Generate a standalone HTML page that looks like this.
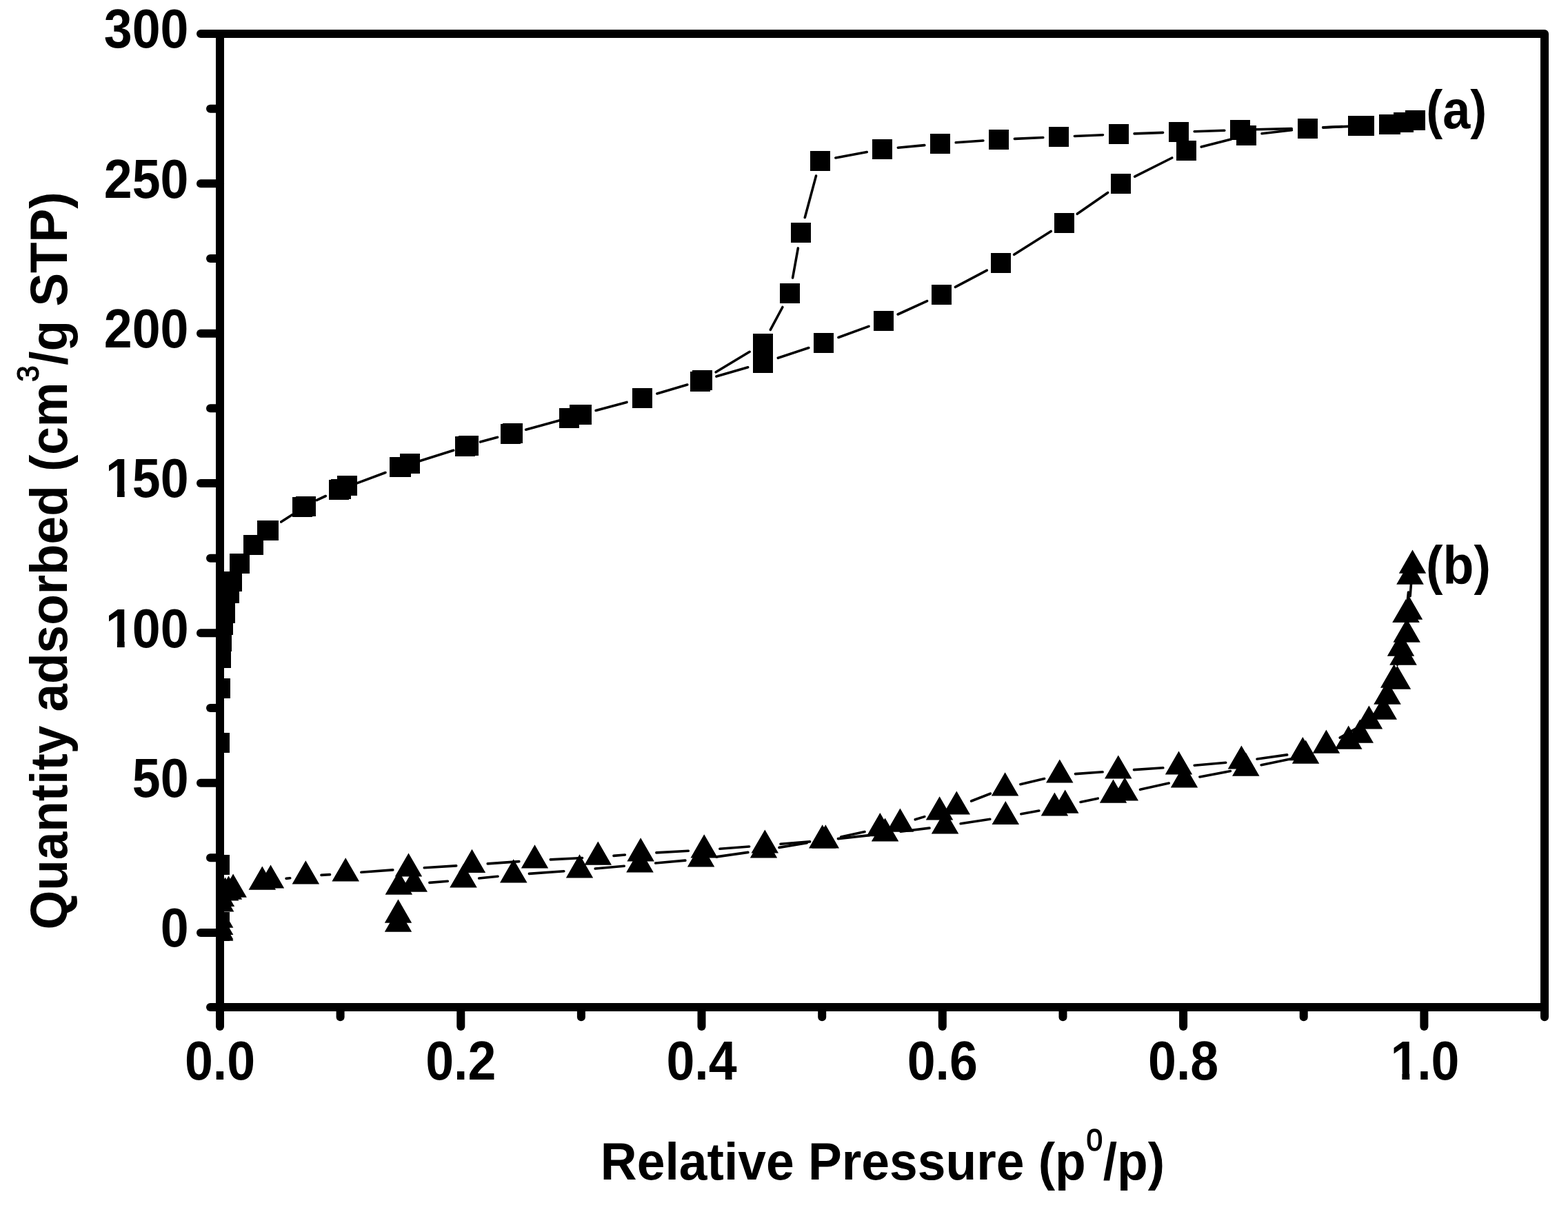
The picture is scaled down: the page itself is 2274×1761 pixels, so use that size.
<!DOCTYPE html>
<html lang="en">
<head>
<meta charset="utf-8">
<title>Nitrogen adsorption isotherms</title>
<style>
html,body{margin:0;padding:0;background:#fff;}
body{width:2274px;height:1761px;}
svg{display:block;}
text{font-family:"Liberation Sans",sans-serif;font-weight:bold;fill:#000;}
.ax{stroke:#000;stroke-width:12;stroke-linecap:round;fill:none;}
.ln{stroke:#000;stroke-width:3.6;stroke-linecap:round;fill:none;}
.tk{font-size:77px;}
.tt{font-size:77px;}
</style>
</head>
<body>
<svg width="2274" height="1761" viewBox="0 0 2274 1761">
<rect x="0" y="0" width="2274" height="1761" fill="#fff"/>
<defs><clipPath id="plot"><rect x="319" y="49" width="1921" height="1412"/></clipPath><clipPath id="one"><path d="M-5,-90 H50 V-10 H-5 Z M17.6,-10.5 H28.9 V3 H17.6 Z"/></clipPath></defs>
<g clip-path="url(#plot)">
<g class="ln">
<line x1="407.7" y1="757" x2="424.1" y2="746.6"/>
<line x1="459.2" y1="725.6" x2="472.3" y2="719.5"/>
<line x1="514.4" y1="702.1" x2="559" y2="685.5"/>
<line x1="602.2" y1="670.8" x2="657.7" y2="653.3"/>
<line x1="696.5" y1="641.1" x2="721.5" y2="634.3"/>
<line x1="762.7" y1="623.2" x2="820.1" y2="607.5"/>
<line x1="864.1" y1="595.5" x2="909" y2="583.4"/>
<line x1="952.9" y1="571" x2="996.8" y2="558"/>
<line x1="1038.9" y1="546.1" x2="1084.7" y2="532.8"/>
<line x1="1128.3" y1="519.3" x2="1172.8" y2="504.5"/>
<line x1="1215.9" y1="489.5" x2="1260" y2="473.4"/>
<line x1="1302.1" y1="456" x2="1344.6" y2="436.6"/>
<line x1="1385.4" y1="416.4" x2="1431.3" y2="392.1"/>
<line x1="1470.7" y1="369.3" x2="1524.2" y2="335.5"/>
<line x1="1562.2" y1="310.3" x2="1606.6" y2="279.4"/>
<line x1="1645.7" y1="256.1" x2="1699.7" y2="229"/>
<line x1="1742.2" y1="213.1" x2="1785.3" y2="202.1"/>
<line x1="1830" y1="193.7" x2="1873.4" y2="188.7"/>
<line x1="1918.8" y1="184.9" x2="1946.5" y2="183.5"/>
<line x1="1038.2" y1="539.8" x2="1087.1" y2="510.3"/>
<line x1="1117.3" y1="478.4" x2="1134.9" y2="445.5"/>
<line x1="1149.6" y1="403" x2="1157.4" y2="359.9"/>
<line x1="1167.3" y1="315.5" x2="1183.5" y2="255.1"/>
<line x1="1211.8" y1="228.9" x2="1257.2" y2="220.6"/>
<line x1="1302.3" y1="214.2" x2="1340.8" y2="210.6"/>
<line x1="1386.2" y1="206.8" x2="1425.9" y2="204"/>
<line x1="1471.4" y1="201.4" x2="1512.8" y2="199.5"/>
<line x1="1558.4" y1="197.5" x2="1599.5" y2="195.7"/>
<line x1="1645.1" y1="193.9" x2="1686.6" y2="192.4"/>
<line x1="1732.2" y1="190.8" x2="1775.8" y2="189.2"/>
<line x1="1821.4" y1="187.8" x2="1873.2" y2="186.6"/>
<line x1="1918.8" y1="185" x2="1955.8" y2="183.4"/>
<line x1="415.1" y1="1274.4" x2="420.7" y2="1273.8"/>
<line x1="466" y1="1269.4" x2="478.5" y2="1268.6"/>
<line x1="523.9" y1="1265.3" x2="569.8" y2="1261.9"/>
<line x1="615.3" y1="1258.8" x2="661.7" y2="1255.9"/>
<line x1="707.2" y1="1252.9" x2="752.8" y2="1249.6"/>
<line x1="798.3" y1="1246.9" x2="844.5" y2="1244.5"/>
<line x1="890" y1="1241.4" x2="906.4" y2="1240"/>
<line x1="951.9" y1="1236.9" x2="998.4" y2="1234.3"/>
<line x1="1043.9" y1="1231.3" x2="1086.6" y2="1228"/>
<line x1="1132" y1="1224.3" x2="1174.6" y2="1220.9"/>
<line x1="1219.6" y1="1214.1" x2="1254" y2="1206.6"/>
<line x1="1327.2" y1="1188.8" x2="1340.8" y2="1184.6"/>
<line x1="1408.6" y1="1162" x2="1436.3" y2="1151.2"/>
<line x1="1479.8" y1="1137.7" x2="1514.6" y2="1129.5"/>
<line x1="1559.5" y1="1122.6" x2="1599.1" y2="1119.8"/>
<line x1="1644.5" y1="1116.6" x2="1686.8" y2="1113.8"/>
<line x1="1732.2" y1="1110.2" x2="1777.7" y2="1106.2"/>
<line x1="1823" y1="1101" x2="1866.7" y2="1094.9"/>
<line x1="1943.2" y1="1070.1" x2="1965.6" y2="1057.4"/>
<line x1="2013.5" y1="1010.8" x2="2014.5" y2="1008"/>
<line x1="2026.5" y1="964.1" x2="2026.7" y2="962.7"/>
<line x1="2035" y1="917.9" x2="2035.5" y2="914.1"/>
<line x1="2041.5" y1="868.9" x2="2042.5" y2="859.1"/>
<line x1="622.9" y1="1280.4" x2="649.3" y2="1278.2"/>
<line x1="694.7" y1="1274" x2="722" y2="1271.2"/>
<line x1="767.4" y1="1267.4" x2="817.8" y2="1263.7"/>
<line x1="863.2" y1="1260" x2="905.3" y2="1256.2"/>
<line x1="950.7" y1="1252" x2="993.9" y2="1248.1"/>
<line x1="1039.2" y1="1242.9" x2="1084.9" y2="1236.4"/>
<line x1="1130" y1="1229.4" x2="1170.2" y2="1222.7"/>
<line x1="1215.4" y1="1216.6" x2="1260.9" y2="1211.6"/>
<line x1="1306.2" y1="1206.3" x2="1348" y2="1201.1"/>
<line x1="1393.1" y1="1194.7" x2="1435.8" y2="1188.2"/>
<line x1="1480.8" y1="1180.7" x2="1506.9" y2="1176.1"/>
<line x1="1567" y1="1163.5" x2="1592.2" y2="1158.2"/>
<line x1="1653.5" y1="1145.3" x2="1695.2" y2="1136.1"/>
<line x1="1739.9" y1="1127" x2="1784.4" y2="1118.5"/>
<line x1="1829.1" y1="1109.7" x2="1871.3" y2="1101"/>
<line x1="1915.2" y1="1089.1" x2="1934.1" y2="1082.6"/>
<line x1="1985.4" y1="1047.8" x2="1998.8" y2="1029"/>
<line x1="2045.1" y1="864.6" x2="2046.8" y2="843.1"/>
</g>
<g fill="#000" shape-rendering="crispEdges">
<rect x="304.1" y="1335.7" width="29" height="29"/>
<rect x="304.1" y="1322.5" width="29" height="29"/>
<rect x="304.1" y="1240" width="29" height="29"/>
<rect x="304.1" y="1063" width="29" height="29"/>
<rect x="304.8" y="983.9" width="29" height="29"/>
<rect x="305.7" y="939.5" width="29" height="29"/>
<rect x="306.9" y="915.5" width="29" height="29"/>
<rect x="308.9" y="892" width="29" height="29"/>
<rect x="312" y="874.5" width="29" height="29"/>
<rect x="318" y="845.5" width="29" height="29"/>
<rect x="322" y="828.5" width="29" height="29"/>
<rect x="333.1" y="803" width="29" height="29"/>
<rect x="353.2" y="775.8" width="29" height="29"/>
<rect x="373.2" y="755.1" width="29" height="29"/>
<rect x="374.9" y="754.5" width="29" height="29"/>
<rect x="424" y="720.6" width="29" height="29"/>
<rect x="428.8" y="719.8" width="29" height="29"/>
<rect x="477.1" y="695.8" width="29" height="29"/>
<rect x="480" y="695.2" width="29" height="29"/>
<rect x="489" y="689.9" width="29" height="29"/>
<rect x="565" y="663.3" width="29" height="29"/>
<rect x="566.8" y="662.9" width="29" height="29"/>
<rect x="580.2" y="658.1" width="29" height="29"/>
<rect x="660" y="632.6" width="29" height="29"/>
<rect x="665" y="632" width="29" height="29"/>
<rect x="726.2" y="614.7" width="29" height="29"/>
<rect x="729" y="613.8" width="29" height="29"/>
<rect x="810.8" y="591.9" width="29" height="29"/>
<rect x="826.2" y="587.2" width="29" height="29"/>
<rect x="829" y="586.8" width="29" height="29"/>
<rect x="916.5" y="562.9" width="29" height="29"/>
<rect x="1000.9" y="538.9" width="29" height="29"/>
<rect x="1004.2" y="537.1" width="29" height="29"/>
<rect x="1092.1" y="511.9" width="29" height="29"/>
<rect x="1092.1" y="484" width="29" height="29"/>
<rect x="1180" y="482.9" width="29" height="29"/>
<rect x="1266.9" y="451" width="29" height="29"/>
<rect x="1350.8" y="412.6" width="29" height="29"/>
<rect x="1436.9" y="366.9" width="29" height="29"/>
<rect x="1529" y="308.9" width="29" height="29"/>
<rect x="1610.8" y="251.8" width="29" height="29"/>
<rect x="1705.6" y="204.3" width="29" height="29"/>
<rect x="1792.9" y="181.9" width="29" height="29"/>
<rect x="1881.5" y="171.5" width="29" height="29"/>
<rect x="1954.8" y="167.9" width="29" height="29"/>
<rect x="1999.8" y="165.9" width="29" height="29"/>
<rect x="2021" y="162.9" width="29" height="29"/>
<rect x="2037.8" y="159.9" width="29" height="29"/>
<rect x="2002.3" y="165.9" width="29" height="29"/>
<rect x="1964.1" y="167.9" width="29" height="29"/>
<rect x="1784.1" y="173.9" width="29" height="29"/>
<rect x="1694.9" y="177.1" width="29" height="29"/>
<rect x="1607.8" y="180.2" width="29" height="29"/>
<rect x="1521.1" y="184" width="29" height="29"/>
<rect x="1434.1" y="187.9" width="29" height="29"/>
<rect x="1349" y="193.9" width="29" height="29"/>
<rect x="1265.1" y="201.9" width="29" height="29"/>
<rect x="1174.9" y="218.6" width="29" height="29"/>
<rect x="1146.9" y="323" width="29" height="29"/>
<rect x="1131.1" y="410.9" width="29" height="29"/>
</g>
<g fill="#000">
<polygon points="318.6,1330.5 338.4,1364.7 298.9,1364.7"/>
<polygon points="318.6,1328.5 338.4,1362.7 298.9,1362.7"/>
<polygon points="318.6,1321.8 338.4,1356 298.9,1356"/>
<polygon points="318.6,1311.6 338.4,1345.8 298.9,1345.8"/>
<polygon points="319.7,1288.4 339.4,1322.6 299.9,1322.6"/>
<polygon points="320.5,1280.8 340.2,1315 300.8,1315"/>
<polygon points="326.6,1272.4 346.4,1306.6 306.9,1306.6"/>
<polygon points="331.5,1270.5 351.2,1304.7 311.8,1304.7"/>
<polygon points="338.1,1267.6 357.9,1301.8 318.4,1301.8"/>
<polygon points="380.3,1256.6 400.1,1290.8 360.6,1290.8"/>
<polygon points="392.5,1254.4 412.2,1288.6 372.8,1288.6"/>
<polygon points="443.3,1248.2 463.1,1282.4 423.6,1282.4"/>
<polygon points="501.2,1244.2 521,1278.4 481.4,1278.4"/>
<polygon points="592.5,1237.4 612.2,1271.6 572.8,1271.6"/>
<polygon points="684.5,1231.7 704.2,1265.9 664.8,1265.9"/>
<polygon points="775.5,1225.2 795.2,1259.4 755.8,1259.4"/>
<polygon points="867.3,1220.6 887,1254.8 847.5,1254.8"/>
<polygon points="929.1,1215.3 948.9,1249.5 909.4,1249.5"/>
<polygon points="1021.2,1210.3 1041,1244.5 1001.5,1244.5"/>
<polygon points="1109.3,1203.4 1129,1237.6 1089.5,1237.6"/>
<polygon points="1197.3,1196.2 1217,1230.4 1177.5,1230.4"/>
<polygon points="1276.3,1179 1296,1213.2 1256.5,1213.2"/>
<polygon points="1305.4,1172.6 1325.2,1206.8 1285.7,1206.8"/>
<polygon points="1362.6,1155.2 1382.3,1189.4 1342.8,1189.4"/>
<polygon points="1387.3,1147.4 1407,1181.6 1367.5,1181.6"/>
<polygon points="1457.6,1120.2 1477.3,1154.4 1437.8,1154.4"/>
<polygon points="1536.8,1101.4 1556.5,1135.6 1517,1135.6"/>
<polygon points="1621.8,1095.4 1641.5,1129.6 1602,1129.6"/>
<polygon points="1709.5,1089.4 1729.2,1123.6 1689.8,1123.6"/>
<polygon points="1800.4,1081.4 1820.2,1115.6 1780.7,1115.6"/>
<polygon points="1889.3,1069 1909,1103.2 1869.5,1103.2"/>
<polygon points="1923.4,1058.5 1943.2,1092.7 1903.7,1092.7"/>
<polygon points="1985.4,1023.4 2005.2,1057.6 1965.7,1057.6"/>
<polygon points="2006.3,1009.6 2026,1043.8 1986.5,1043.8"/>
<polygon points="2021.7,963.6 2041.5,997.8 2002,997.8"/>
<polygon points="2031.5,917.6 2051.2,951.8 2011.8,951.8"/>
<polygon points="2039,868.8 2058.8,903 2019.2,903"/>
<polygon points="2045,813.6 2064.8,847.8 2025.2,847.8"/>
<polygon points="577.5,1317.5 597.2,1351.7 557.8,1351.7"/>
<polygon points="577.5,1304.5 597.2,1338.7 557.8,1338.7"/>
<polygon points="578.4,1263.6 598.1,1297.8 558.6,1297.8"/>
<polygon points="600.2,1259.6 620,1293.8 580.5,1293.8"/>
<polygon points="672,1253.4 691.8,1287.6 652.2,1287.6"/>
<polygon points="744.7,1246.2 764.5,1280.4 725,1280.4"/>
<polygon points="840.5,1239.3 860.2,1273.5 820.8,1273.5"/>
<polygon points="928,1231.3 947.8,1265.5 908.2,1265.5"/>
<polygon points="1016.6,1223.3 1036.3,1257.5 996.9,1257.5"/>
<polygon points="1107.5,1210.4 1127.2,1244.6 1087.8,1244.6"/>
<polygon points="1192.7,1196.2 1212.5,1230.4 1173,1230.4"/>
<polygon points="1283.6,1186.4 1303.3,1220.6 1263.8,1220.6"/>
<polygon points="1370.6,1175.4 1390.3,1209.6 1350.8,1209.6"/>
<polygon points="1458.3,1161.9 1478,1196.1 1438.5,1196.1"/>
<polygon points="1529.4,1149.4 1549.2,1183.6 1509.7,1183.6"/>
<polygon points="1544.7,1145.5 1564.5,1179.7 1525,1179.7"/>
<polygon points="1614.5,1130.6 1634.2,1164.8 1594.8,1164.8"/>
<polygon points="1631.2,1127.4 1651,1161.6 1611.5,1161.6"/>
<polygon points="1717.5,1108.4 1737.2,1142.6 1697.8,1142.6"/>
<polygon points="1806.8,1091.5 1826.5,1125.7 1787,1125.7"/>
<polygon points="1893.6,1073.6 1913.3,1107.8 1873.8,1107.8"/>
<polygon points="1955.7,1052.5 1975.5,1086.7 1936,1086.7"/>
<polygon points="1972.2,1043.6 1992,1077.8 1952.5,1077.8"/>
<polygon points="2012,987.6 2031.8,1021.8 1992.2,1021.8"/>
<polygon points="2026.4,965.6 2046.2,999.8 2006.7,999.8"/>
<polygon points="2035,930.6 2054.8,964.8 2015.2,964.8"/>
<polygon points="2040.2,897.6 2059.9,931.8 2020.5,931.8"/>
<polygon points="2043.4,864.5 2063.2,898.7 2023.7,898.7"/>
<polygon points="2048.5,797.6 2068.2,831.8 2028.8,831.8"/>
</g>
</g>
<g class="ax">
<path d="M291,49 H2240 V1475.3" stroke-linejoin="round"/>
<path d="M319,49 V1489"/>
<path d="M305,1461 H2240" stroke-linecap="butt"/>
<path d="M305,1461 h0.1"/>
<path d="M319,157.7 H305"/>
<path d="M319,266.3 H291"/>
<path d="M319,375 H305"/>
<path d="M319,483.7 H291"/>
<path d="M319,592.3 H305"/>
<path d="M319,701 H291"/>
<path d="M319,809.7 H305"/>
<path d="M319,918.3 H291"/>
<path d="M319,1027 H305"/>
<path d="M319,1135.7 H291"/>
<path d="M319,1244.3 H305"/>
<path d="M319,1353 H291"/>
<path d="M493.6,1461 V1475.3"/>
<path d="M668.3,1461 V1489"/>
<path d="M842.9,1461 V1475.3"/>
<path d="M1017.5,1461 V1489"/>
<path d="M1192.2,1461 V1475.3"/>
<path d="M1366.8,1461 V1489"/>
<path d="M1541.5,1461 V1475.3"/>
<path d="M1716.1,1461 V1489"/>
<path d="M1890.7,1461 V1475.3"/>
<path d="M2065.4,1461 V1489"/>
</g>
<g transform="translate(273.5,69.3) scale(0.955,1.035)"><text class="tk" x="-128.5" y="0">300</text></g>
<g transform="translate(273.5,286.6) scale(0.955,1.035)"><text class="tk" x="-128.5" y="0">250</text></g>
<g transform="translate(273.5,504) scale(0.955,1.035)"><text class="tk" x="-128.5" y="0">200</text></g>
<g transform="translate(273.5,721.3) scale(0.955,1.035)"><g transform="translate(-126.1,0)"><text class="tk" x="0" y="0" clip-path="url(#one)">1</text></g><text class="tk" x="-85.6" y="0">50</text></g>
<g transform="translate(273.5,938.6) scale(0.955,1.035)"><g transform="translate(-126.1,0)"><text class="tk" x="0" y="0" clip-path="url(#one)">1</text></g><text class="tk" x="-85.6" y="0">00</text></g>
<g transform="translate(273.5,1156) scale(0.955,1.035)"><text class="tk" x="-85.6" y="0">50</text></g>
<g transform="translate(273.5,1373.3) scale(0.955,1.035)"><text class="tk" x="-42.8" y="0">0</text></g>
<g transform="translate(319,1566.3) scale(0.955,1.035)"><text class="tk" x="-53.5" y="0">0.0</text></g>
<g transform="translate(668.3,1566.3) scale(0.955,1.035)"><text class="tk" x="-53.5" y="0">0.2</text></g>
<g transform="translate(1017.5,1566.3) scale(0.955,1.035)"><text class="tk" x="-53.5" y="0">0.4</text></g>
<g transform="translate(1366.8,1566.3) scale(0.955,1.035)"><text class="tk" x="-53.5" y="0">0.6</text></g>
<g transform="translate(1716.1,1566.3) scale(0.955,1.035)"><text class="tk" x="-53.5" y="0">0.8</text></g>
<g transform="translate(2065.4,1566.3) scale(0.955,1.035)"><g transform="translate(-51.1,0)"><text class="tk" x="0" y="0" clip-path="url(#one)">1</text></g><text class="tk" x="-10.7" y="0">.0</text></g>
<text class="tk" text-anchor="start" transform="translate(2068.2,186.3) scale(0.935,1.0)">(a)</text>
<text class="tk" text-anchor="start" transform="translate(2068,846.5) scale(0.955,1.0)">(b)</text>
<text class="tt" text-anchor="middle" transform="translate(1280,1710.7) scale(0.951,0.975)">Relative Pressure (p<tspan font-size="44.7" font-weight="normal" stroke="#000" stroke-width="1.3" dx="0.6" dy="-42.5">0</tspan><tspan dx="0.7" dy="42.5">/p)</tspan></text>
<text class="tt" text-anchor="middle" transform="translate(97.3,813.5) rotate(-90) scale(0.947,0.975)">Quantity adsorbed (cm<tspan font-size="44.7" font-weight="normal" stroke="#000" stroke-width="1.3" dx="0.6" dy="-42.5">3</tspan><tspan dx="0.7" dy="42.5">/g STP)</tspan></text>
</svg>
</body>
</html>
